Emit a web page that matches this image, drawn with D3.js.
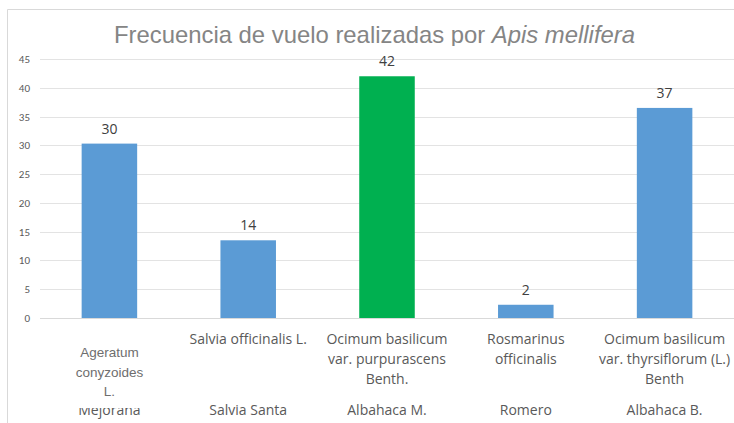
<!DOCTYPE html>
<html><head><meta charset="utf-8">
<script src="https://cdn.jsdelivr.net/npm/d3@7"></script>
<style>body{margin:0;background:#fff}svg{display:block}</style>
</head><body>
<svg id="c" width="734" height="423"></svg>
<script>
const scientific = [["Ageratum","conyzoides","L."],["Salvia officinalis L."],["Ocimum basilicum","var. purpurascens","Benth."],["Rosmarinus","officinalis"],["Ocimum basilicum","var. thyrsiflorum (L.)","Benth"]];
const common = ["Mejorana","Salvia Santa","Albahaca M.","Romero","Albahaca B."];
const values = [30.3, 13.5, 42, 2.3, 36.5];
const colors = ["#5b9bd5","#5b9bd5","#00b050","#5b9bd5","#5b9bd5"];
const yTicks = [0,5,10,15,20,25,30,35,40,45];

const svg = d3.select("#c");
const W = 734, H = 423;
const x = d3.scaleBand().domain(d3.range(values.length)).range([40, 734]).paddingInner(0.6).paddingOuter(0.3);
const y = d3.scaleLinear().domain([0,45]).range([318, 59]);

// border
svg.append("path").attr("d","M7.5,423 V9.5 H734").attr("fill","none").attr("stroke","#d9d9d9").attr("stroke-width",1);

// gridlines
svg.append("g").selectAll("line").data(yTicks).join("line")
  .attr("x1",40).attr("x2",734)
  .attr("y1",d=>Math.round(y(d))+0.5).attr("y2",d=>Math.round(y(d))+0.5)
  .attr("stroke",d=>d===0?"#d9d9d9":"#e3e3e3").attr("stroke-width",1);

// y axis labels
const yAxis = d3.axisLeft(y).tickValues(yTicks).tickSize(0).tickPadding(0);
const ga = svg.append("g").attr("transform","translate(30,0)").call(yAxis);
ga.select(".domain").remove();
ga.selectAll("text").attr("font-family","Calibri, Carlito, 'Open Sans', sans-serif").attr("font-size",11).attr("fill","#595959");

// bars
svg.append("g").selectAll("rect").data(values).join("rect")
  .attr("x",(d,i)=>x(i)).attr("width",x.bandwidth())
  .attr("y",d=>y(d)).attr("height",d=>y(0)-y(d))
  .attr("fill",(d,i)=>colors[i]);

// value labels
svg.append("g").selectAll("text").data(values).join("text")
  .attr("x",(d,i)=>x(i)+x.bandwidth()/2).attr("y",d=>y(d)-10)
  .attr("text-anchor","middle").attr("font-family","'Open Sans', sans-serif").attr("font-size",14)
  .attr("fill","#404040").text(d=>Math.round(d));

// common names
svg.append("g").selectAll("text").data(common).join("text")
  .attr("x",(d,i)=>x(i)+x.bandwidth()/2).attr("y",415)
  .attr("text-anchor","middle").attr("font-family","'Open Sans', sans-serif").attr("font-size",14)
  .attr("fill","#595959").text(d=>d);
// white box of first category label covers the top of the first common name
svg.append("rect").attr("x",x(0)-15).attr("y",397).attr("width",x.bandwidth()+30).attr("height",11).attr("fill","#fff");

// category labels (scientific)
const cg = svg.append("g");
scientific.forEach((lines,i)=>{
  const cx = x(i)+x.bandwidth()/2;
  const isFirst = i===0;
  const t = cg.append("text").attr("text-anchor","middle")
    .attr("font-family", isFirst ? "'Liberation Sans', Arial, sans-serif" : "'Open Sans', sans-serif")
    .attr("font-size", isFirst ? 13.5 : 14)
    .attr("fill", isFirst ? "#6e6e6e" : "#595959");
  lines.forEach((l,k)=>{
    t.append("tspan").attr("x",cx).attr("y",(isFirst?357:344)+k*(isFirst?19.5:20)).text(l);
  });
});

// title, clipped at bottom
svg.append("clipPath").attr("id","tc").append("rect").attr("x",0).attr("y",10).attr("width",W).attr("height",36);
const title = svg.append("text").attr("clip-path","url(#tc)")
  .attr("x",114).attr("y",43).attr("textLength",521).attr("lengthAdjust","spacingAndGlyphs")
  .attr("font-family","'Liberation Sans', Arial, sans-serif").attr("font-size",24).attr("fill","#858585");
title.append("tspan").text("Frecuencia de vuelo realizadas por ");
title.append("tspan").attr("font-style","italic").text("Apis mellifera");
</script>
</body></html>
